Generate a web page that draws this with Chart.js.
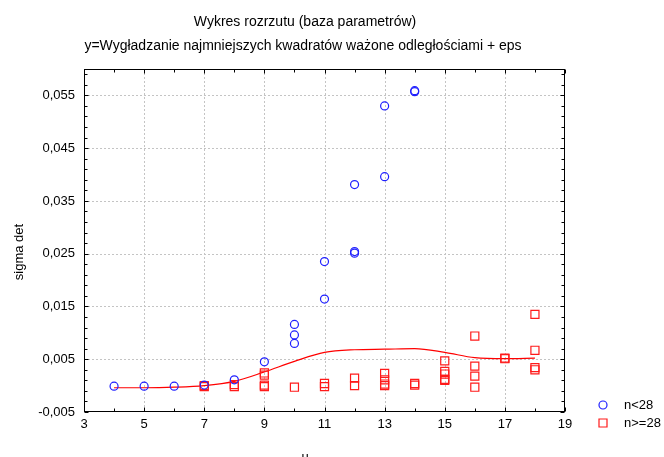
<!DOCTYPE html>
<html>
<head>
<meta charset="utf-8">
<script src="https://cdn.jsdelivr.net/npm/chart.js@4/dist/chart.umd.min.js"></script>
<style>
  html, body { margin: 0; padding: 0; background: #fff; }
  canvas { display: block; }
</style>
</head>
<body>
<canvas id="chart" width="664" height="457"></canvas>
<script>
// Axis tick labels
const xTicks = [3, 5, 7, 9, 11, 13, 15, 17, 19];
const yTicks = [-0.005, 0.005, 0.015, 0.025, 0.035, 0.045, 0.055];

// Group n<28
const uLow = [4, 5, 6, 7, 8, 9, 10, 10, 10, 11, 11, 12, 12, 12, 13, 13, 14, 14];
const sLow = [-0.0001, -0.0001, -0.0001, 0.0001, 0.0011, 0.0045, 0.0080, 0.0096, 0.0116,
              0.0164, 0.0235, 0.0251, 0.0254, 0.0381, 0.0396, 0.0530, 0.0557, 0.0559];

// Group n>=28
const uHigh = [7, 7, 8, 8, 9, 9, 9, 9, 10, 11, 11, 12, 12, 13, 13, 13, 13, 14, 14,
               15, 15, 15, 15, 15, 16, 16, 16, 16, 17, 17, 18, 18, 18, 18];
const sHigh = [-0.0002, 0.0000, -0.0002, 0.0002, -0.0002, 0.0001, 0.0020, 0.0024, -0.0003,
               -0.0002, 0.0004, 0.0000, 0.0014, 0.0000, 0.0003, 0.0011, 0.0023, 0.0001, 0.0004,
               0.0010, 0.0012, 0.0022, 0.0027, 0.0047, -0.0003, 0.0018, 0.0037, 0.0094,
               0.0051, 0.0052, 0.0030, 0.0034, 0.0067, 0.0135];

// Distance-weighted least squares smoother
const curveU = [4, 5, 6, 7, 8, 9, 10, 11, 12, 13, 14, 15, 16, 17, 18];
const curveS = [-0.0004, -0.0004, -0.0003, 0.0000, 0.0008, 0.0026, 0.0046, 0.0063,
                0.0068, 0.0069, 0.0070, 0.0063, 0.0053, 0.0051, 0.0052];

const BLUE = '#1f1fff';
const RED = '#ff1a1a';
const FONT = "'Liberation Sans', Arial, sans-serif";

const toPts = (xs, ys) => xs.map((x, i) => ({ x: x, y: ys[i] }));

// Grid, frame, inward ticks, titles and legend
const decor = {
  id: 'decor',
  beforeDatasetsDraw(chart) {
    const { ctx, chartArea: a, scales: { x, y } } = chart;
    ctx.save();
    ctx.strokeStyle = '#c4c4c4';
    ctx.lineWidth = 1;
    ctx.setLineDash([2, 2]);
    xTicks.slice(1, -1).forEach(v => {
      const px = Math.round(x.getPixelForValue(v)) + 0.5;
      ctx.beginPath(); ctx.moveTo(px, a.top); ctx.lineTo(px, a.bottom); ctx.stroke();
    });
    yTicks.slice(1).forEach(v => {
      const py = Math.round(y.getPixelForValue(v)) + 0.5;
      ctx.beginPath(); ctx.moveTo(a.left, py); ctx.lineTo(a.right, py); ctx.stroke();
    });
    ctx.restore();
  },
  afterDatasetsDraw(chart) {
    const { ctx, chartArea: a, scales: { x, y } } = chart;
    ctx.save();
    ctx.strokeStyle = '#000';
    ctx.lineWidth = 1;
    ctx.setLineDash([]);
    const L = Math.round(a.left) + 0.5, R = Math.round(a.right) - 0.5;
    const T = Math.round(a.top) + 0.5, B = Math.round(a.bottom) - 0.5;
    ctx.strokeRect(L, T, R - L, B - T);

    ctx.beginPath();
    for (let v = 3; v <= 19; v += 1) {
      const px = Math.round(x.getPixelForValue(v)) + 0.5;
      const len = (v % 2 === 1) ? 4 : 3;
      ctx.moveTo(px, B); ctx.lineTo(px, B - len);
      ctx.moveTo(px, T); ctx.lineTo(px, T + len);
    }
    for (let k = 0; k <= 32; k++) {
      const v = -0.005 + k * 0.002;
      const py = Math.round(y.getPixelForValue(v)) + 0.5;
      const len = (k % 5 === 0) ? 4 : 3;
      ctx.moveTo(L, py); ctx.lineTo(L + len, py);
      ctx.moveTo(R, py); ctx.lineTo(R - len, py);
    }
    ctx.stroke();

    // Titles
    ctx.fillStyle = '#000';
    ctx.font = '14px ' + FONT;
    ctx.textAlign = 'center';
    ctx.textBaseline = 'middle';
    ctx.fillText('Wykres rozrzutu (baza parametrów)', 305, 22);
    ctx.fillText('y=Wygładzanie najmniejszych kwadratów ważone odległościami + eps', 303, 46);

    // Axis titles
    ctx.font = '13px ' + FONT;
    ctx.textBaseline = 'alphabetic';
    ctx.fillText('u', 305, 461);
    ctx.save();
    ctx.translate(19, 252);
    ctx.rotate(-Math.PI / 2);
    ctx.textBaseline = 'middle';
    ctx.fillText('sigma det', 0, 0);
    ctx.restore();

    // Legend
    const items = [
      { label: 'n<28', color: BLUE, shape: 'circle', y: 405 },
      { label: 'n>=28', color: RED, shape: 'rect', y: 423 }
    ];
    ctx.lineWidth = 1.2;
    items.forEach(it => {
      ctx.strokeStyle = it.color;
      ctx.beginPath();
      if (it.shape === 'circle') {
        ctx.arc(603, it.y, 4, 0, Math.PI * 2);
      } else {
        ctx.rect(599, it.y - 4, 8, 8);
      }
      ctx.stroke();
      ctx.fillStyle = '#000';
      ctx.textAlign = 'left';
      ctx.textBaseline = 'middle';
      ctx.fillText(it.label, 624, it.y);
    });
    ctx.restore();
  }
};

new Chart(document.getElementById('chart'), {
  type: 'scatter',
  data: {
    datasets: [
      {
        label: 'n<28',
        data: toPts(uLow, sLow),
        pointStyle: 'circle',
        pointRadius: 4,
        borderColor: BLUE,
        backgroundColor: 'rgba(0,0,0,0)',
        borderWidth: 1.2
      },
      {
        label: 'n>=28',
        data: toPts(uHigh, sHigh),
        pointStyle: 'rect',
        pointRadius: 5.7,
        borderColor: RED,
        backgroundColor: 'rgba(0,0,0,0)',
        borderWidth: 1.2
      },
      {
        type: 'line',
        label: 'fit',
        data: toPts(curveU, curveS),
        borderColor: '#ff0000',
        borderWidth: 1.2,
        pointRadius: 0,
        fill: false,
        showLine: true,
        cubicInterpolationMode: 'monotone'
      }
    ]
  },
  options: {
    responsive: false,
    animation: false,
    devicePixelRatio: 1,
    layout: { padding: { top: 69, right: 99, left: 0, bottom: 0 } },
    plugins: { legend: { display: false }, tooltip: { enabled: false } },
    scales: {
      x: {
        type: 'linear',
        min: 3, max: 19,
        afterBuildTicks: s => { s.ticks = xTicks.map(v => ({ value: v })); },
        afterFit: s => { s.height = 45; },
        grid: { display: false, drawTicks: false },
        border: { display: false },
        ticks: { padding: 5, color: '#000', autoSkip: false, maxRotation: 0,
                 font: { family: FONT, size: 13 } }
      },
      y: {
        type: 'linear',
        min: -0.005, max: 0.06,
        afterBuildTicks: s => { s.ticks = yTicks.map(v => ({ value: v })); },
        afterFit: s => { s.width = 84; },
        grid: { display: false, drawTicks: false },
        border: { display: false },
        ticks: { padding: 9, color: '#000', autoSkip: false,
                 font: { family: FONT, size: 13 },
                 callback: v => v.toFixed(3).replace('.', ',') }
      }
    }
  },
  plugins: [decor]
});
</script>
</body>
</html>
